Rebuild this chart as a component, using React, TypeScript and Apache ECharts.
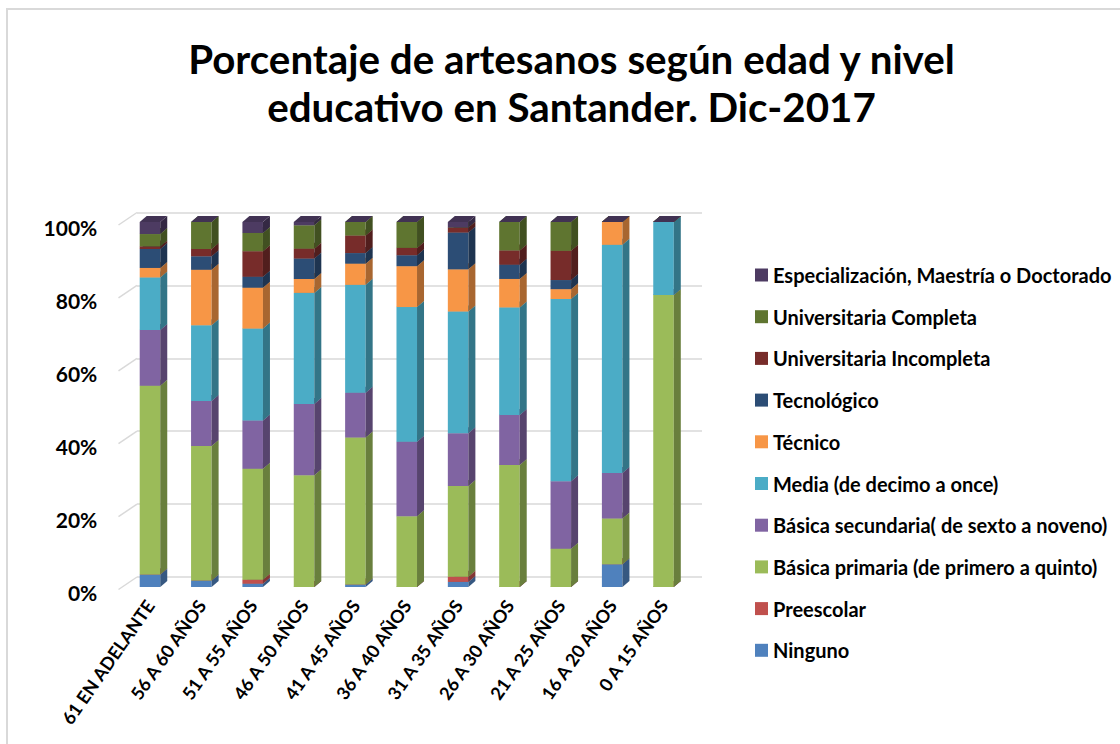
import React, { useEffect, useRef } from "react";
import * as echarts from "echarts";

const categories = [
  "61 EN ADELANTE",
  "56 A 60 AÑOS",
  "51 A 55 AÑOS",
  "46 A 50 AÑOS",
  "41 A 45 AÑOS",
  "36 A 40 AÑOS",
  "31 A 35 AÑOS",
  "26 A 30 AÑOS",
  "21 A 25 AÑOS",
  "16 A 20 AÑOS",
  "0 A 15 AÑOS",
];

const ninguno = [3.4, 1.8, 0.9, 0, 0.7, 0, 1.4, 0, 0, 6.25, 0];
const preescolar = [0, 0, 1.1, 0, 0, 0, 1.4, 0, 0, 0, 0];
const primaria = [51.8, 36.9, 30.4, 30.6, 40.2, 19.4, 24.9, 33.4, 10.5, 12.5, 80];
const secundaria = [15.3, 12.3, 13.2, 19.5, 12.3, 20.4, 14.5, 13.7, 18.5, 12.5, 0];
const media = [14.4, 20.8, 25.2, 30.4, 29.5, 36.9, 33.4, 29.5, 49.9, 62.5, 20];
const tecnico = [2.6, 15.2, 11.2, 3.8, 5.8, 11.2, 11.6, 7.8, 2.7, 6.25, 0];
const tecnologico = [5.2, 3.7, 3.0, 5.6, 2.9, 3.0, 10.1, 3.9, 2.5, 0, 0];
const univIncompleta = [0.7, 2.0, 7.0, 2.7, 4.8, 2.0, 1.4, 3.9, 8.0, 0, 0];
const univCompleta = [3.4, 7.4, 5.0, 6.4, 3.7, 7.1, 0, 7.8, 7.9, 0, 0];
const especializacion = [3.3, 0, 3.0, 0.9, 0, 0, 1.5, 0, 0, 0, 0];

const seriesNames = [
  "Ninguno",
  "Preescolar",
  "Básica primaria (de primero a quinto)",
  "Básica secundaria( de sexto a noveno)",
  "Media (de decimo a once)",
  "Técnico",
  "Tecnológico",
  "Universitaria Incompleta",
  "Universitaria Completa",
  "Especialización, Maestría o Doctorado",
];
const seriesValues = [
  ninguno,
  preescolar,
  primaria,
  secundaria,
  media,
  tecnico,
  tecnologico,
  univIncompleta,
  univCompleta,
  especializacion,
];
const seriesColors = [
  "#4F81BD",
  "#C0504D",
  "#9BBB59",
  "#8064A2",
  "#4BACC6",
  "#F79646",
  "#2C4D75",
  "#772C2A",
  "#5F7530",
  "#4D3B62",
];
const percentTicks = [0, 20, 40, 60, 80, 100];

function shade(hex: string, f: number) {
  const n = parseInt(hex.slice(1), 16);
  const r = Math.round(((n >> 16) & 255) * f);
  const g = Math.round(((n >> 8) & 255) * f);
  const b = Math.round((n & 255) * f);
  return `rgb(${r},${g},${b})`;
}

const FONT = "Lato, 'Open Sans', sans-serif";

export default function App() {
  const ref = useRef<HTMLDivElement>(null);
  useEffect(() => {
    if (!ref.current) return;
    const chart = echarts.init(ref.current, undefined, { renderer: "svg" });

    const totals = categories.map((_, i) =>
      seriesValues.reduce((s, arr) => s + arr[i], 0)
    );
    const cum = categories.map(() => 0);
    const DX = 7;
    const DY = 6;

    const barSeries = seriesValues.map((arr, k) => {
      const data = arr.map((v, i) => {
        const pct = (v / totals[i]) * 100;
        const base = cum[i];
        cum[i] += pct;
        return [i, base, base + pct];
      });
      const color = seriesColors[k];
      return {
        name: seriesNames[k],
        type: "custom",
        xAxisIndex: 0,
        yAxisIndex: 0,
        itemStyle: { color },
        data,
        renderItem: (params: any, api: any) => {
          const i = api.value(0);
          const p0 = api.coord([i, api.value(1)]);
          const p1 = api.coord([i, api.value(2)]);
          const bw = api.size([1, 0])[0] * 0.4;
          const x = p0[0] - bw / 2;
          const yB = p0[1];
          const yT = p1[1];
          return {
            type: "group",
            children: [
              {
                type: "rect",
                shape: { x, y: yT, width: bw, height: yB - yT },
                style: { fill: color },
              },
              {
                type: "polygon",
                shape: {
                  points: [
                    [x + bw, yB],
                    [x + bw, yT],
                    [x + bw + DX, yT - DY],
                    [x + bw + DX, yB - DY],
                  ],
                },
                style: { fill: shade(color, 0.68) },
              },
              {
                type: "polygon",
                shape: {
                  points: [
                    [x, yT],
                    [x + DX, yT - DY],
                    [x + bw + DX, yT - DY],
                    [x + bw, yT],
                  ],
                },
                style: { fill: shade(color, 0.85) },
              },
            ],
          };
        },
      };
    });

    const option: any = {
      animation: false,
      backgroundColor: "#ffffff",
      title: {
        text: "Porcentaje de artesanos según edad y nivel\neducativo en Santander. Dic-2017",
        left: 563.5,
        textAlign: "center",
        top: 24,
        padding: 0,
        textStyle: {
          fontFamily: FONT,
          fontWeight: "bold",
          fontSize: 40.3,
          lineHeight: 48,
          color: "#000",
        },
      },
      legend: {
        orient: "vertical",
        left: 742,
        top: 249,
        icon: "rect",
        itemWidth: 13,
        itemHeight: 13,
        itemGap: 19.7,
        data: [...seriesNames].reverse(),
        textStyle: {
          fontFamily: FONT,
          fontWeight: "bold",
          fontSize: 20,
          lineHeight: 22,
          color: "#000",
        },
      },
      grid: [
        { left: 116.3, right: 430.8, top: 212, bottom: 157 },
        { left: 129, right: 418, top: 202.5, bottom: 167 },
      ],
      xAxis: [
        {
          type: "category",
          gridIndex: 0,
          data: categories,
          axisLine: { show: false },
          axisTick: { show: false },
          axisLabel: {
            interval: 0,
            rotate: 55,
            margin: 15,
            fontFamily: FONT,
            fontWeight: "bold",
            fontSize: 18,
            color: "#000",
          },
        },
        {
          type: "value",
          gridIndex: 1,
          min: 0,
          max: 1,
          show: false,
        },
      ],
      yAxis: [
        {
          type: "value",
          gridIndex: 0,
          min: 0,
          max: 100,
          interval: 20,
          splitLine: { show: false },
          axisLine: { show: false },
          axisTick: { show: false },
          axisLabel: {
            formatter: "{value}%",
            margin: 27,
            verticalAlign: "top",
            lineHeight: 10,
            fontFamily: FONT,
            fontWeight: "bold",
            fontSize: 21,
            color: "#000",
          },
        },
        {
          type: "value",
          gridIndex: 1,
          min: 0,
          max: 100,
          interval: 20,
          axisLine: { show: false },
          axisTick: { show: false },
          axisLabel: { show: false },
          splitLine: { lineStyle: { color: "#d9d9d9", width: 1.5 } },
        },
      ],
      series: [
        {
          type: "custom",
          xAxisIndex: 1,
          yAxisIndex: 1,
          silent: true,
          data: percentTicks.map((v) => [0, v]),
          renderItem: (params: any, api: any) => {
            const p = api.coord([0, api.value(1)]);
            return {
              type: "line",
              shape: { x1: p[0], y1: p[1], x2: p[0] - 18.5, y2: p[1] + 12.5 },
              style: { stroke: "#d9d9d9", lineWidth: 1.5 },
            };
          },
        },
        ...barSeries,
      ],
    };
    chart.setOption(option);
    return () => chart.dispose();
  }, []);

  return (
    <div
      style={{
        position: "absolute",
        left: 6,
        top: 8,
        borderLeft: "2px solid #d9d9d9",
        borderTop: "2px solid #d9d9d9",
      }}
    >
      <div ref={ref} style={{ width: 1112, height: 734 }} />
    </div>
  );
}
